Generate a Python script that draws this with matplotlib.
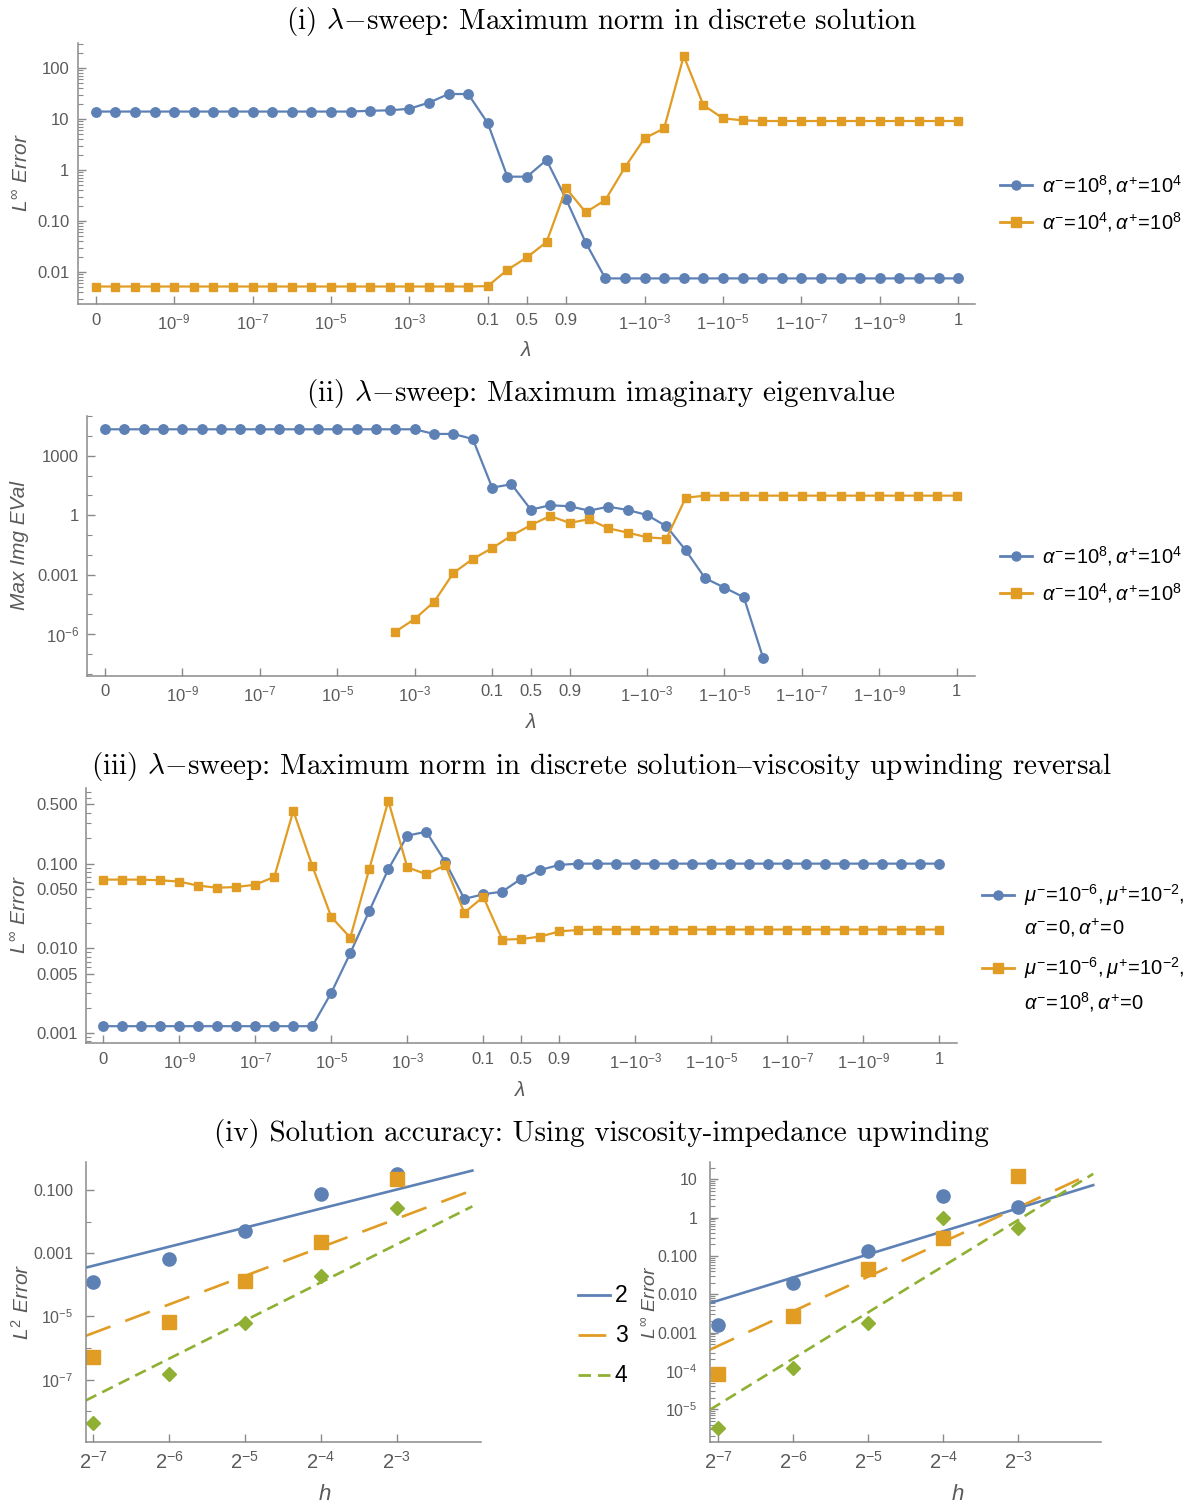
import numpy as np
import matplotlib
matplotlib.use('Agg')
import matplotlib.pyplot as plt
from matplotlib.lines import Line2D
from matplotlib.ticker import FixedLocator, FixedFormatter, NullFormatter, NullLocator, LogLocator

plt.rcParams['font.family'] = ['Liberation Sans', 'DejaVu Sans']
plt.rcParams['mathtext.fontset'] = 'custom'
plt.rcParams['mathtext.rm'] = 'Liberation Sans'
plt.rcParams['mathtext.it'] = 'Liberation Sans:italic'
plt.rcParams['mathtext.bf'] = 'Liberation Sans:bold'

blue = '#5E81B5'
orange = '#E19C24'
green = '#8FB032'
axcol = '#8a8a8a'
txtcol = '#5a5a5a'
nan = np.nan

# lambda sweep, 45 samples; ticks sit on selected sample indices
lam_tick_idx = [0, 4, 8, 12, 16, 20, 22, 24, 28, 32, 36, 40, 44]
lam_tick_lbl = ['0', r'$10^{-9}$', r'$10^{-7}$', r'$10^{-5}$', r'$10^{-3}$',
                '0.1', '0.5', '0.9',
                r'$1\!-\!10^{-3}$', r'$1\!-\!10^{-5}$', r'$1\!-\!10^{-7}$', r'$1\!-\!10^{-9}$', '1']

# (i) max norm error
linf_a = [14.0, 14.0, 14.0, 14.0, 14.0, 14.0, 14.0, 14.0, 14.0, 14.0, 14.0, 14.0, 14.0, 14.0,
          14.5, 14.8, 15.9, 20.9, 30.9, 30.9, 8.3, 0.74, 0.74, 1.57, 0.266, 0.0376,
          0.0075, 0.0075, 0.0075, 0.0075, 0.0075, 0.0075, 0.0075, 0.0075, 0.0075, 0.0075,
          0.0075, 0.0075, 0.0075, 0.0075, 0.0075, 0.0075, 0.0075, 0.0075, 0.0075]
linf_b = [0.0052, 0.0052, 0.0052, 0.0052, 0.0052, 0.0052, 0.0052, 0.0052, 0.0052, 0.0052,
          0.0052, 0.0052, 0.0052, 0.0052, 0.0052, 0.0052, 0.0052, 0.0052, 0.0052, 0.0052,
          0.0053, 0.011, 0.0194, 0.0387, 0.437, 0.148, 0.258, 1.13, 4.18, 6.57,
          172.0, 18.8, 10.3, 9.42, 9.13, 9.13, 9.13, 9.13, 9.13, 9.13, 9.13, 9.13, 9.13, 9.13, 9.13]

# (ii) max imaginary eigenvalue
eig_a = [22000, 22000, 22000, 22000, 22000, 22000, 22000, 22000, 22000, 22000,
         22000, 22000, 22000, 22000, 22000, 22000, 22000, 12800, 12800, 7100,
         25.0, 36.8, 1.92, 3.2, 2.85, 1.71, 2.7, 1.85, 1.03, 0.278,
         0.017, 6.6e-4, 2.2e-4, 7.2e-5, 6e-8, nan, nan, nan, nan, nan,
         nan, nan, nan, nan, nan]
eig_b = [nan, nan, nan, nan, nan, nan, nan, nan, nan, nan, nan, nan, nan, nan, nan,
         1.3e-6, 5.8e-6, 4.2e-5, 1.22e-3, 6.2e-3, 0.022, 0.093, 0.32, 0.92, 0.41,
         0.63, 0.22, 0.133, 0.077, 0.066, 7.7, 9.8, 9.8, 9.8, 9.8,
         9.8, 9.8, 9.8, 9.8, 9.8, 9.8, 9.8, 9.8, 9.8, 9.8]

# (iii) viscosity upwinding reversal
visc_a = [0.00121, 0.00121, 0.00121, 0.00121, 0.00121, 0.00121, 0.00121, 0.00121, 0.00121,
          0.00121, 0.00121, 0.00121, 0.0030, 0.0088, 0.0277, 0.086, 0.214, 0.238, 0.105,
          0.0384, 0.0435, 0.0468, 0.0665, 0.0843, 0.0966,
          0.1, 0.1, 0.1, 0.1, 0.1, 0.1, 0.1, 0.1, 0.1, 0.1,
          0.1, 0.1, 0.1, 0.1, 0.1, 0.1, 0.1, 0.1, 0.1, 0.1]
visc_b = [0.0648, 0.0648, 0.0648, 0.0637, 0.0614, 0.055, 0.052, 0.053, 0.0565, 0.0697,
          0.419, 0.094, 0.0235, 0.0134, 0.0866, 0.55, 0.0906, 0.075, 0.0957, 0.0264,
          0.0405, 0.0127, 0.0129, 0.0138, 0.0159, 0.0165,
          0.0167, 0.0167, 0.0167, 0.0167, 0.0167, 0.0167, 0.0167, 0.0167, 0.0167, 0.0167,
          0.0167, 0.0167, 0.0167, 0.0167, 0.0167, 0.0167, 0.0167, 0.0167, 0.0167]

lab_i = [r'$\alpha^{-}\!=\!10^{8},\alpha^{+}\!=\!10^{4}$', r'$\alpha^{-}\!=\!10^{4},\alpha^{+}\!=\!10^{8}$']
lab_iii = [r'$\mu^{-}\!=\!10^{-6},\mu^{+}\!=\!10^{-2},$' + '\n' + r'$\alpha^{-}\!=\!0,\alpha^{+}\!=\!0$',
           r'$\mu^{-}\!=\!10^{-6},\mu^{+}\!=\!10^{-2},$' + '\n' + r'$\alpha^{-}\!=\!10^{8},\alpha^{+}\!=\!0$']

# (iv) convergence study
h = [2.0**-7, 2.0**-6, 2.0**-5, 2.0**-4, 2.0**-3]
h_lbl = [r'$2^{-7}$', r'$2^{-6}$', r'$2^{-5}$', r'$2^{-4}$', r'$2^{-3}$']
l2_p2 = [1.26e-4, 6.7e-4, 5.15e-3, 0.073, 0.32]
l2_p3 = [5.3e-7, 6.8e-6, 1.32e-4, 2.3e-3, 0.219]
l2_p4 = [4.4e-9, 1.5e-7, 6.3e-6, 1.9e-4, 0.028]
li_p2 = [1.55e-3, 0.020, 0.137, 3.73, 1.86]
li_p3 = [8.3e-5, 2.7e-3, 0.0447, 0.29, 12.4]
li_p4 = [3.3e-6, 1.2e-4, 1.75e-3, 1.0, 0.55]
orders = [2, 3, 4]
ref_c_l2 = [6.6, 6.3, 7.8]
ref_c_li = [113.0, 950.0, 3560.0]

W, H = 1188, 1508
fig = plt.figure(figsize=(W / 100, H / 100), dpi=100)


def fx(x):
    return x / W


def fy(y):
    return 1 - y / H


def make_axes(l, t, r, b):
    return fig.add_axes([fx(l), fy(b), (r - l) / W, (b - t) / H])


def style(ax):
    for s in ['top', 'right']:
        ax.spines[s].set_visible(False)
    for s in ['left', 'bottom']:
        ax.spines[s].set_color(axcol)
        ax.spines[s].set_linewidth(1.1)
    ax.tick_params(which='both', direction='in', color=axcol, labelcolor=txtcol, labelsize=12)
    ax.tick_params(which='major', length=6, width=1.0, pad=6)
    ax.tick_params(which='minor', length=3.5, width=0.8)


def sweep_axis(ax, xlim, ylim, yt, ylbl, minor):
    style(ax)
    ax.set_yscale('log')
    ax.set_xlim(*xlim)
    ax.set_ylim(*ylim)
    ax.xaxis.set_major_locator(FixedLocator(lam_tick_idx))
    ax.xaxis.set_major_formatter(FixedFormatter(lam_tick_lbl))
    ax.xaxis.set_minor_locator(NullLocator())
    ax.yaxis.set_major_locator(FixedLocator(yt))
    ax.yaxis.set_major_formatter(FixedFormatter(ylbl))
    ax.yaxis.set_minor_locator(minor)
    ax.yaxis.set_minor_formatter(NullFormatter())


def legend_rows(x, ys, colors, markers, labels, size=14.5, ms=6.5):
    for y, c, m, t in zip(ys, colors, markers, labels):
        fig.add_artist(Line2D([fx(x), fx(x + 32)], [fy(y), fy(y)], transform=fig.transFigure,
                              color=c, lw=2))
        if m:
            fig.add_artist(Line2D([fx(x + 16)], [fy(y)], transform=fig.transFigure,
                                  color=c, marker=m, ms=ms, lw=0))
        if '\n' in t:
            fig.text(fx(x + 42), fy(y - 13), t, fontsize=size, va='top', ha='left',
                     color='black', linespacing=1.5)
        else:
            fig.text(fx(x + 42), fy(y), t, fontsize=size, va='center', ha='left', color='black')


title_kw = dict(fontsize=21, family=['cmr10', 'DejaVu Serif'], math_fontfamily='cm',
                ha='center', va='center', color='black')
ylab_kw = dict(fontsize=15, color=txtcol, rotation=90, ha='center', va='center')
lam = np.arange(len(linf_a))

# (i)
ax1 = make_axes(77.7, 43.3, 975, 304.3)
sweep_axis(ax1, (-0.92, 44.86), (0.00233, 305),
           [0.01, 0.1, 1, 10, 100], ['0.01', '0.10', '1', '10', '100'],
           LogLocator(base=10, subs=np.arange(2, 10), numticks=30))
ax1.plot(lam, linf_a, color=blue, lw=1.6, marker='o', ms=6.8, clip_on=False)
ax1.plot(lam, linf_b, color=orange, lw=1.6, marker='s', ms=6.4, clip_on=False)
fig.text(0.506, fy(22), r'(i) $\lambda{-}$sweep: Maximum norm in discrete solution', **title_kw)
fig.text(fx(526), fy(350), r'$\lambda$', fontsize=15, color=txtcol, ha='center', va='center')
fig.text(fx(22), fy(173), r'$L^{\infty}\ Error$', **ylab_kw)
legend_rows(1000, [185, 222], [blue, orange], ['o', 's'], lab_i)

# (ii)
ax2 = make_axes(87.3, 415.7, 975, 676)
sweep_axis(ax2, (-0.91, 44.94), (7.6e-9, 1.07e5),
           [1e-6, 1e-3, 1, 1e3], [r'$10^{-6}$', '0.001', '1', '1000'],
           FixedLocator([10.0 ** k for k in range(-8, 6)]))
ax2.plot(lam, eig_a, color=blue, lw=1.6, marker='o', ms=6.8, clip_on=False)
ax2.plot(lam, eig_b, color=orange, lw=1.6, marker='s', ms=6.4, clip_on=False)
fig.text(0.506, fy(394), r'(ii) $\lambda{-}$sweep: Maximum imaginary eigenvalue', **title_kw)
fig.text(fx(531), fy(723), r'$\lambda$', fontsize=15, color=txtcol, ha='center', va='center')
fig.text(fx(20), fy(545), 'Max Img EVal', fontstyle='italic', **ylab_kw)
legend_rows(1000, [556, 593], [blue, orange], ['o', 's'], lab_i)

# (iii)
ax3 = make_axes(86, 788.3, 957, 1043.3)
sweep_axis(ax3, (-0.91, 44.93), (7.6e-4, 0.774),
           [0.001, 0.005, 0.01, 0.05, 0.1, 0.5],
           ['0.001', '0.005', '0.010', '0.050', '0.100', '0.500'],
           LogLocator(base=10, subs=np.arange(1, 10), numticks=30))
ax3.plot(lam, visc_a, color=blue, lw=1.6, marker='o', ms=6.8, clip_on=False)
ax3.plot(lam, visc_b, color=orange, lw=1.6, marker='s', ms=6.4, clip_on=False)
fig.text(0.506, fy(767),
         r'(iii) $\lambda{-}$sweep: Maximum norm in discrete solution$–$viscosity upwinding reversal',
         **title_kw)
fig.text(fx(520), fy(1090), r'$\lambda$', fontsize=15, color=txtcol, ha='center', va='center')
fig.text(fx(20), fy(915), r'$L^{\infty}\ Error$', **ylab_kw)
legend_rows(982, [895, 968], [blue, orange], ['o', 's'], lab_iii)

# (iv)
fig.text(0.506, fy(1133), '(iv) Solution accuracy: Using viscosity-impedance upwinding', **title_kw)
styles = [dict(color=blue, ls='-'),
          dict(color=orange, ls=(0, (10, 6))),
          dict(color=green, ls=(0, (4.5, 2.5)))]
marks = [dict(marker='o', ms=9.5), dict(marker='s', ms=10), dict(marker='D', ms=7.5)]


def conv_axis(ax, xlim, ylim, yt, ylbl, minor, pts, consts):
    style(ax)
    ax.set_xscale('log', base=2)
    ax.set_yscale('log')
    ax.set_xlim(*xlim)
    ax.set_ylim(*ylim)
    ax.xaxis.set_major_locator(FixedLocator(h))
    ax.xaxis.set_major_formatter(FixedFormatter(h_lbl))
    ax.xaxis.set_minor_locator(NullLocator())
    ax.tick_params(axis='x', labelsize=14.5)
    ax.tick_params(axis='y', labelsize=11.5, pad=9)
    ax.yaxis.set_major_locator(FixedLocator(yt))
    ax.yaxis.set_major_formatter(FixedFormatter(ylbl))
    ax.yaxis.set_minor_locator(minor)
    ax.yaxis.set_minor_formatter(NullFormatter())
    hh = np.array([xlim[0], 2.0 ** -2])
    for p, c, st in zip(orders, consts, styles):
        ax.plot(hh, c * hh ** p, lw=1.9, **st)
    for vals, st, mk in zip(pts, styles, marks):
        ax.plot(h, vals, lw=0, color=st['color'], mec=st['color'], clip_on=False, **mk)


ax4 = make_axes(85.7, 1161.7, 480.7, 1442.3)
conv_axis(ax4, (2.0 ** -7.1, 2.0 ** -1.89), (1.05e-9, 0.787),
          [1e-7, 1e-5, 1e-3, 1e-1], [r'$10^{-7}$', r'$10^{-5}$', '0.001', '0.100'],
          FixedLocator([10.0 ** k for k in range(-9, 1)]),
          [l2_p2, l2_p3, l2_p4], ref_c_l2)
fig.text(fx(325), fy(1495), r'$h$', fontsize=16, color=txtcol, ha='center', va='center')
fig.text(fx(22), fy(1302), r'$L^{2}\ Error$', **ylab_kw)

ax5 = make_axes(710, 1161.7, 1100.7, 1442.3)
conv_axis(ax5, (2.0 ** -7.11, 2.0 ** -1.9), (10 ** -5.86, 10 ** 1.46),
          [1e-5, 1e-4, 1e-3, 1e-2, 1e-1, 1, 10],
          [r'$10^{-5}$', r'$10^{-4}$', '0.001', '0.010', '0.100', '1', '10'],
          LogLocator(base=10, subs=np.arange(2, 10), numticks=30),
          [li_p2, li_p3, li_p4], ref_c_li)
fig.text(fx(958), fy(1495), r'$h$', fontsize=16, color=txtcol, ha='center', va='center')
fig.text(fx(650), fy(1302), r'$L^{\infty}\ Error$', fontsize=14, color=txtcol,
         rotation=90, ha='center', va='center')

for y, o, st in zip([1295, 1335, 1375], orders, styles):
    fig.add_artist(Line2D([fx(578), fx(610)], [fy(y), fy(y)], transform=fig.transFigure,
                          lw=2, **st))
    fig.text(fx(615), fy(y), str(o), fontsize=16.5, color='black', ha='left', va='center')

fig.savefig('out.png', dpi=100)
